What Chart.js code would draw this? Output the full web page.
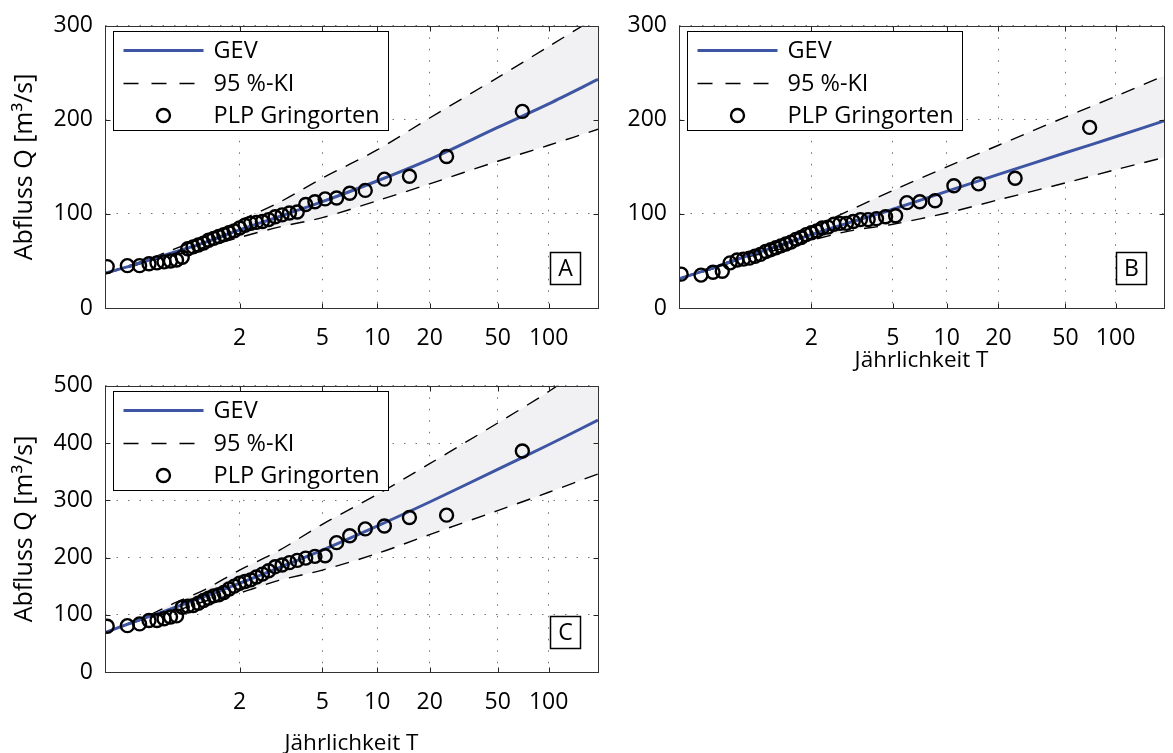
<!DOCTYPE html>
<html><head><meta charset="utf-8">
<script src="https://cdn.jsdelivr.net/npm/chart.js@4.4.1/dist/chart.umd.min.js"></script>
<style>
html,body{margin:0;padding:0;background:#fff;overflow:hidden;width:1173px;height:753px}
.p{position:absolute}
canvas{display:block}
</style></head><body>
<div class="p" style="left:0;top:0"><canvas id="cA" width="610" height="360"></canvas></div>
<div class="p" style="left:610px;top:0"><canvas id="cB" width="563" height="375"></canvas></div>
<div class="p" style="left:0;top:360px"><canvas id="cC" width="610" height="400"></canvas></div>
<script>
// ---------- data ----------
// return periods of the axis ticks (Jährlichkeit T)
const tickLabels = [2, 5, 10, 20, 50, 100];
// plotting positions (Gringorten) as return periods, 39 years
const plpT = [1.0145, 1.0415, 1.0700, 1.1001, 1.1319, 1.1657, 1.2015, 1.2395, 1.2801, 1.3234,
  1.3697, 1.4194, 1.4729, 1.5305, 1.5928, 1.6604, 1.7340, 1.8145, 1.9027, 2.0000,
  2.1078, 2.2278, 2.3623, 2.5141, 2.6868, 2.8850, 3.1146, 3.3841, 3.7045, 4.0921,
  4.5701, 5.1746, 5.9634, 7.0360, 8.5789, 10.989, 15.281, 25.077, 69.857];
const plpA = [44,45,45,47,48,49,50,51,54,63,65,67,69,72,74,76,78,80,82,85,88,90,91,92,94,97,99,101,102,110,113,116,117,122,125,137,140,161,209];
const plpB = [36,35,38,39,48,51,52,53,55,57,60,62,64,66,68,70,73,75,78,80,82,85,86,89,90,90,92,94,94,95,97,98,112,113,114,130,132,138,192];
const plpC = [80,81,84,90,90,93,96,98,113,115,116,120,125,129,133,135,139,145,150,155,158,161,166,171,177,184,187,191,195,199,202,203,226,238,250,255,270,274,386];
// GEV fit and 95 % confidence interval, read at these return periods
const curveT = [1.0127, 1.05, 1.1, 1.2, 1.5, 2, 3, 5, 10, 20, 50, 100, 196];
const gevA  = [37, 45, 51, 58, 70, 83, 97, 113, 135, 158, 192, 217, 243];
const kiUpA = [37, 46, 52, 61, 76, 93, 112, 138, 168, 202, 245, 278, 310];
const kiLoA = [37, 44, 50, 55, 65, 75, 86, 96, 114, 132, 156, 173, 190];
const gevB  = [31, 40, 46, 54, 66, 78, 91, 105, 124, 142, 165, 182, 199];
const kiUpB = [31, 41, 47, 55, 70, 85, 104, 125, 150, 173, 203, 225, 247];
const kiLoB = [31, 39, 45, 53, 62, 72, 82, 89, 101, 115, 133, 147, 160];
const gevC  = [69, 86, 97, 110, 133, 155, 182, 213, 255, 297, 354, 397, 440];
const kiUpC = [69, 87, 99, 117, 145, 178, 212, 258, 310, 364, 435, 490, 550];
const kiLoC = [69, 85, 95, 104, 124, 138, 160, 178, 207, 240, 282, 314, 346];
const legendLabels = ['GEV', '95 %-KI', 'PLP Gringorten'];
const yTitle = 'Abfluss Q [m\u00B3/s]';
const xTitle = 'J\u00E4hrlichkeit T';

// ---------- Gumbel probability scale ----------
const gumbel = T => -Math.log(-Math.log(1 - 1 / T));
const gumbelInv = g => 1 / (1 - Math.exp(-Math.exp(-g)));
class GumbelScale extends Chart.Scale {
  static id = 'gumbel';
  static defaults = {};
  determineDataLimits() { this.min = this.options.min; this.max = this.options.max; }
  buildTicks() { return tickLabels.map(v => ({ value: v })); }
  configure() { super.configure(); this._gs = gumbel(this.min); this._gr = gumbel(this.max) - this._gs; }
  getLabelForValue(v) { return String(v); }
  getPixelForValue(v) { return this.getPixelForDecimal((gumbel(v) - this._gs) / this._gr); }
  getValueForPixel(p) { return gumbelInv(this._gs + this.getDecimalForPixel(p) * this._gr); }
}
Chart.register(GumbelScale);

const FONT = "'Open Sans', 'DejaVu Sans', sans-serif";
Chart.defaults.font.family = FONT;
Chart.defaults.color = '#000';

const BLUE = '#3d55a3';
const DASH = [14, 10];

const decor = {
  id: 'decor',
  afterDraw(chart, args, o) {
    const { ctx, chartArea: a, scales } = chart;
    const L = Math.round(a.left) + 0.5, R = Math.round(a.right) + 0.5;
    const T = Math.round(a.top) + 0.5, B = Math.round(a.bottom) + 0.5;
    ctx.save();
    // inward tick marks on all four sides
    ctx.strokeStyle = '#222'; ctx.lineWidth = 1; ctx.setLineDash([]);
    ctx.beginPath();
    const tl = 5;
    scales.x.ticks.forEach(t => {
      const px = Math.round(scales.x.getPixelForValue(t.value)) + 0.5;
      ctx.moveTo(px, B); ctx.lineTo(px, B - tl);
      ctx.moveTo(px, T); ctx.lineTo(px, T + tl);
    });
    scales.y.ticks.forEach(t => {
      const py = Math.round(scales.y.getPixelForValue(t.value)) + 0.5;
      ctx.moveTo(L, py); ctx.lineTo(L + tl, py);
      ctx.moveTo(R, py); ctx.lineTo(R - tl, py);
    });
    ctx.stroke();
    ctx.strokeStyle = '#333';
    ctx.strokeRect(L, T, R - L, B - T);

    // legend box
    const bx = L + 8, by = T + 5, bw = 275, bh = 99;
    ctx.fillStyle = '#fff';
    ctx.fillRect(bx, by, bw, bh);
    ctx.strokeStyle = '#000'; ctx.lineWidth = 1;
    ctx.strokeRect(bx, by, bw, bh);
    const rows = [by + 19, by + 52, by + 84];
    ctx.font = '23.5px ' + FONT;
    ctx.textBaseline = 'middle'; ctx.textAlign = 'left'; ctx.fillStyle = '#000';
    // GEV
    ctx.strokeStyle = BLUE; ctx.lineWidth = 3;
    ctx.beginPath(); ctx.moveTo(bx + 10, rows[0]); ctx.lineTo(bx + 90, rows[0]); ctx.stroke();
    // KI
    ctx.strokeStyle = '#000'; ctx.lineWidth = 1.5; ctx.setLineDash([15, 13]);
    ctx.beginPath(); ctx.moveTo(bx + 10, rows[1]); ctx.lineTo(bx + 90, rows[1]); ctx.stroke();
    ctx.setLineDash([]);
    // PLP
    ctx.lineWidth = 2.4;
    ctx.beginPath(); ctx.arc(bx + 50, rows[2], 6.5, 0, Math.PI * 2); ctx.stroke();
    legendLabels.forEach((s, i) => ctx.fillText(s, bx + 100, rows[i] + 1));

    // panel letter
    const lw = 30, lh = 32;
    const lx = R - 18 - lw, ly = B - 24 - lh;
    ctx.fillStyle = '#fff'; ctx.fillRect(lx, ly, lw, lh);
    ctx.strokeStyle = '#000'; ctx.lineWidth = 1.5; ctx.strokeRect(lx, ly, lw, lh);
    ctx.fillStyle = '#000'; ctx.textAlign = 'center';
    ctx.font = '23px ' + FONT;
    ctx.fillText(o.letter, lx + lw / 2, ly + lh / 2 + 1);
    ctx.restore();
  }
};

function pts(xs, ys) { return xs.map((x, i) => ({ x: x, y: ys[i] })); }

function makePanel(id, p) {
  const gridCommon = { color: 'rgba(0,0,0,0.55)', lineWidth: 1, drawTicks: false };
  new Chart(document.getElementById(id), {
    type: 'line',
    data: {
      datasets: [
        { data: pts(curveT, p.up), borderColor: '#000', borderWidth: 1.4, borderDash: DASH,
          pointRadius: 0, fill: '+1', backgroundColor: '#f1f1f3', order: 3, tension: 0.3 },
        { data: pts(curveT, p.lo), borderColor: '#000', borderWidth: 1.4, borderDash: DASH,
          pointRadius: 0, fill: false, order: 4, tension: 0.3 },
        { data: pts(curveT, p.gev), borderColor: BLUE, borderWidth: 3,
          pointRadius: 0, fill: false, order: 2, tension: 0.3 },
        { data: pts(plpT, p.plp), showLine: false, pointRadius: 6.5, pointBorderWidth: 2.4,
          pointBorderColor: '#000', pointBackgroundColor: 'rgba(0,0,0,0)', order: 1 }
      ]
    },
    options: {
      responsive: false, animation: false, devicePixelRatio: 1,
      layout: { padding: p.pad },
      plugins: { legend: { display: false }, tooltip: { enabled: false },
        filler: { drawTime: 'beforeDatasetsDraw' }, decor: { letter: p.letter } },
      scales: {
        x: {
          type: 'gumbel', position: 'bottom', min: 1.0127, max: 196,
          grid: gridCommon, border: { display: false, dash: [1.5, 10] },
          ticks: { font: { size: 23 }, padding: 17, maxRotation: 0, autoSkip: false,
            callback: v => String(v) },
          title: { display: p.xTitle, text: xTitle, font: { size: 22.5 }, padding: { top: 0, bottom: p.xTitlePad } },
          afterFit: s => { s.height = p.xH; }
        },
        y: {
          type: 'linear', min: 0, max: p.yMax,
          grid: gridCommon, border: { display: false, dash: [1.5, 10] },
          ticks: { stepSize: 100, font: { size: 23 }, padding: 12 },
          title: { display: p.yTitle, text: yTitle, font: { size: 25 }, padding: { top: 10, bottom: 0 } },
          afterFit: s => { s.width = p.yW; }
        }
      }
    },
    plugins: [decor]
  });
}

makePanel('cA', { up: kiUpA, lo: kiLoA, gev: gevA, plp: plpA, letter: 'A', yMax: 300,
  pad: { top: 22, right: 12, left: 0, bottom: 0 }, xH: 52, yW: 105, xTitle: false, yTitle: true, xTitlePad: 0 });
makePanel('cB', { up: kiUpB, lo: kiLoB, gev: gevB, plp: plpB, letter: 'B', yMax: 300,
  pad: { top: 22, right: 2, left: 0, bottom: 0 }, xH: 67, yW: 69, xTitle: true, yTitle: false, xTitlePad: 1 });
makePanel('cC', { up: kiUpC, lo: kiLoC, gev: gevC, plp: plpC, letter: 'C', yMax: 500,
  pad: { top: 23, right: 12, left: 0, bottom: 0 }, xH: 88, yW: 105, xTitle: true, yTitle: true, xTitlePad: 3 });
</script>
</body></html>
